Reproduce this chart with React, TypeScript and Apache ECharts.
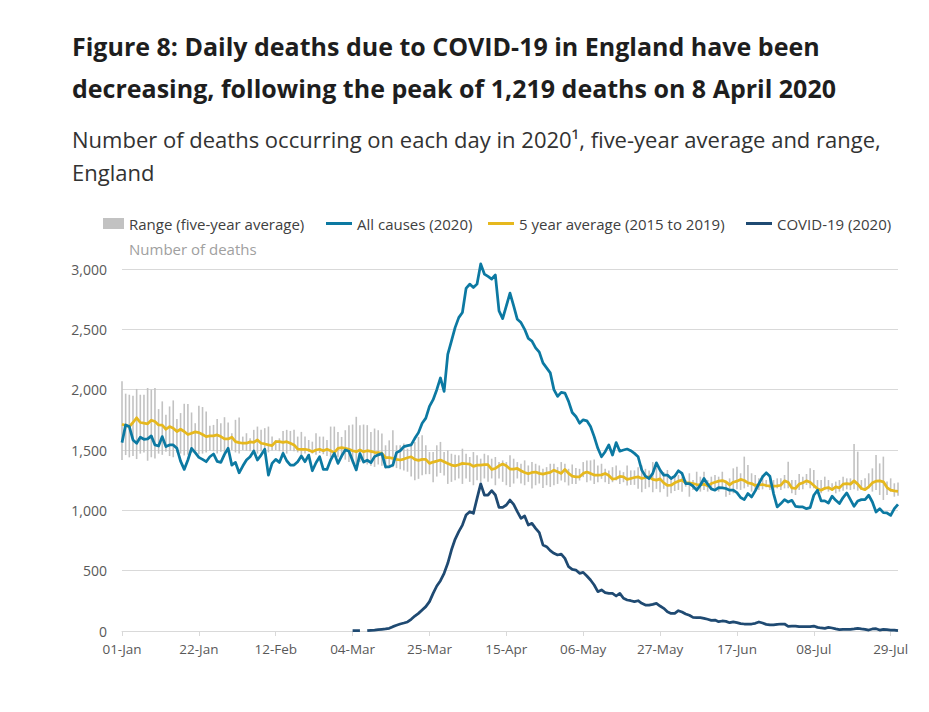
import React, { useEffect, useRef } from "react";
import * as echarts from "echarts";

const TITLE = "Figure 8: Daily deaths due to COVID-19 in England have been\ndecreasing, following the peak of 1,219 deaths on 8 April 2020";
const SUBTITLE = "Number of deaths occurring on each day in 2020\u00b9, five-year average and range,\nEngland";

const MONTHS = ["Jan", "Feb", "Mar", "Apr", "May", "Jun", "Jul"];
const MONTH_DAYS = [31, 29, 31, 30, 31, 30, 31];

const NAME_RANGE = "Range (five-year average)";
const NAME_ALL = "All causes (2020)";
const NAME_AVG = "5 year average (2015 to 2019)";
const NAME_COVID = "COVID-19 (2020)";

const Y_TICKS = [0, 500, 1000, 1500, 2000, 2500, 3000];

const allCauses = [
  1561, 1708, 1694, 1583, 1556, 1606, 1589, 1592, 1617, 1542,
  1533, 1611, 1528, 1542, 1542, 1514, 1408, 1339, 1417, 1514,
  1478, 1439, 1422, 1403, 1444, 1467, 1406, 1397, 1464, 1514,
  1375, 1397, 1311, 1367, 1417, 1444, 1492, 1417, 1458, 1506,
  1292, 1389, 1422, 1397, 1472, 1411, 1375, 1375, 1403, 1450,
  1403, 1458, 1328, 1394, 1444, 1339, 1339, 1417, 1472, 1389,
  1450, 1500, 1490, 1410, 1335, 1470, 1400, 1415, 1395, 1445,
  1460, 1470, 1361, 1361, 1375, 1478, 1494, 1528, 1536, 1542,
  1597, 1644, 1722, 1764, 1861, 1917, 2000, 2097, 1986, 2292,
  2403, 2514, 2597, 2639, 2839, 2875, 2847, 2875, 3042, 2958,
  2939, 2917, 2950, 2653, 2589, 2694, 2800, 2694, 2583, 2556,
  2500, 2425, 2403, 2347, 2311, 2222, 2181, 2139, 2000, 1944,
  1978, 1972, 1903, 1811, 1778, 1722, 1750, 1742, 1694, 1611,
  1514, 1444, 1486, 1542, 1458, 1561, 1490, 1500, 1508, 1494,
  1472, 1444, 1333, 1283, 1264, 1306, 1394, 1333, 1292, 1292,
  1264, 1283, 1328, 1306, 1222, 1222, 1200, 1167, 1208, 1264,
  1217, 1178, 1167, 1189, 1186, 1181, 1167, 1167, 1147, 1106,
  1089, 1139, 1111, 1161, 1222, 1278, 1311, 1283, 1139, 1028,
  1056, 1089, 1069, 1083, 1033, 1028, 1028, 1014, 1022, 1125,
  1167, 1078, 1078, 1061, 1117, 1083, 1056, 1106, 1144, 1089,
  1033, 1078, 1089, 1089, 1125, 1069, 986, 1014, 981, 978,
  958, 1014, 1050,
];

const fiveYearAvg = [
  1714, 1703, 1694, 1728, 1767, 1728, 1722, 1717, 1747, 1736,
  1708, 1706, 1672, 1694, 1681, 1653, 1672, 1653, 1628, 1639,
  1650, 1644, 1628, 1611, 1617, 1617, 1625, 1611, 1592, 1592,
  1606, 1569, 1561, 1556, 1556, 1567, 1564, 1583, 1556, 1550,
  1542, 1536, 1569, 1569, 1564, 1569, 1556, 1542, 1508, 1506,
  1506, 1500, 1486, 1500, 1506, 1494, 1506, 1494, 1478, 1514,
  1519, 1514, 1506, 1494, 1486, 1500, 1486, 1494, 1489, 1481,
  1478, 1472, 1436, 1436, 1431, 1422, 1417, 1425, 1436, 1444,
  1422, 1414, 1422, 1422, 1389, 1400, 1408, 1417, 1403, 1389,
  1375, 1369, 1378, 1389, 1386, 1383, 1364, 1375, 1375, 1378,
  1378, 1339, 1347, 1369, 1383, 1369, 1342, 1342, 1347, 1328,
  1314, 1303, 1314, 1317, 1306, 1300, 1308, 1314, 1333, 1319,
  1306, 1339, 1306, 1283, 1278, 1278, 1306, 1317, 1306, 1292,
  1292, 1294, 1306, 1289, 1258, 1264, 1281, 1278, 1256, 1264,
  1272, 1278, 1264, 1272, 1278, 1256, 1250, 1261, 1228, 1206,
  1208, 1228, 1242, 1250, 1228, 1228, 1222, 1214, 1211, 1217,
  1203, 1222, 1233, 1242, 1247, 1236, 1211, 1233, 1242, 1256,
  1247, 1228, 1222, 1206, 1211, 1214, 1206, 1200, 1200, 1203,
  1208, 1244, 1233, 1186, 1181, 1217, 1228, 1244, 1233, 1206,
  1178, 1167, 1183, 1189, 1172, 1194, 1186, 1217, 1222, 1217,
  1244, 1217, 1181, 1172, 1194, 1228, 1242, 1244, 1236, 1189,
  1167, 1161, 1158,
];

const covid = [
  null, null, null, null, null, null, null, null, null, null,
  null, null, null, null, null, null, null, null, null, null,
  null, null, null, null, null, null, null, null, null, null,
  null, null, null, null, null, null, null, null, null, null,
  null, null, null, null, null, null, null, null, null, null,
  null, null, null, null, null, null, null, null, null, null,
  null, null, null, 3, 3, 3, null, 3, 6, 8,
  11, 14, 17, 22, 36, 47, 58, 66, 75, 97,
  124, 146, 174, 202, 243, 312, 373, 417, 478, 561,
  671, 760, 823, 878, 961, 989, 975, 1099, 1219, 1127,
  1127, 1163, 1127, 1025, 1025, 1044, 1085, 1050, 989, 934,
  953, 878, 892, 851, 815, 713, 699, 666, 644, 630,
  638, 602, 533, 511, 505, 478, 486, 456, 423, 381,
  326, 340, 318, 312, 312, 290, 312, 271, 257, 251,
  243, 251, 229, 215, 215, 221, 229, 207, 188, 160,
  146, 146, 168, 157, 141, 130, 113, 110, 110, 105,
  97, 88, 91, 77, 83, 80, 69, 75, 69, 61,
  58, 58, 58, 64, 75, 66, 55, 50, 50, 55,
  58, 58, 39, 41, 41, 36, 36, 36, 36, 41,
  30, 25, 22, 30, 25, 17, 11, 14, 14, 14,
  17, 22, 17, 14, 8, 17, 19, 8, 14, 11,
  8, 8, 3,
];

const rangeHigh = [
  2069, 1967, 1958, 1950, 2006, 1958, 1958, 2014, 2000, 2014,
  1839, 1903, 1792, 1861, 1911, 1756, 1806, 1883, 1881, 1811,
  1722, 1867, 1856, 1819, 1700, 1708, 1756, 1722, 1772, 1728,
  1639, 1750, 1769, 1611, 1639, 1597, 1667, 1694, 1667, 1681,
  1694, 1611, 1583, 1597, 1658, 1667, 1658, 1667, 1611, 1650,
  1611, 1583, 1569, 1639, 1611, 1611, 1583, 1694, 1694, 1650,
  1608, 1664, 1706, 1711, 1775, 1706, 1711, 1706, 1650, 1678,
  1664, 1636, 1539, 1580, 1664, 1539, 1539, 1553, 1511, 1553,
  1567, 1608, 1622, 1540, 1483, 1483, 1539, 1567, 1483, 1497,
  1469, 1460, 1456, 1511, 1469, 1442, 1483, 1456, 1428, 1469,
  1456, 1428, 1442, 1400, 1414, 1400, 1456, 1428, 1400, 1386,
  1414, 1372, 1400, 1386, 1372, 1344, 1358, 1386, 1386, 1358,
  1400, 1386, 1344, 1380, 1350, 1344, 1400, 1414, 1414, 1422,
  1372, 1386, 1344, 1331, 1358, 1372, 1331, 1317, 1372, 1331,
  1331, 1358, 1372, 1344, 1331, 1400, 1358, 1344, 1317, 1334,
  1265, 1300, 1293, 1274, 1251, 1307, 1251, 1320, 1279, 1320,
  1251, 1279, 1293, 1279, 1320, 1238, 1265, 1348, 1362, 1307,
  1445, 1376, 1307, 1293, 1265, 1293, 1251, 1279, 1251, 1265,
  1265, 1293, 1403, 1251, 1251, 1301, 1279, 1301, 1348, 1334,
  1251, 1251, 1279, 1251, 1224, 1238, 1251, 1279, 1265, 1265,
  1550, 1486, 1251, 1265, 1307, 1348, 1459, 1389, 1445, 1238,
  1265, 1224, 1230,
];

const rangeLow = [
  1417, 1458, 1439, 1450, 1425, 1470, 1480, 1411, 1440, 1430,
  1470, 1460, 1485, 1450, 1440, 1480, 1470, 1455, 1460, 1475,
  1490, 1465, 1470, 1480, 1495, 1490, 1470, 1485, 1475, 1490,
  1500, 1480, 1470, 1500, 1495, 1490, 1485, 1470, 1490, 1500,
  1480, 1495, 1500, 1490, 1480, 1470, 1495, 1490, 1480, 1460,
  1470, 1485, 1470, 1460, 1475, 1465, 1450, 1440, 1455, 1440,
  1440, 1420, 1400, 1390, 1380, 1400, 1390, 1380, 1370, 1360,
  1380, 1370, 1344, 1370, 1358, 1350, 1340, 1330, 1320, 1280,
  1250, 1261, 1290, 1300, 1300, 1233, 1280, 1310, 1289, 1219,
  1236, 1250, 1264, 1219, 1264, 1236, 1208, 1250, 1236, 1264,
  1236, 1264, 1208, 1264, 1236, 1208, 1194, 1222, 1264, 1222,
  1208, 1236, 1180, 1208, 1222, 1186, 1208, 1194, 1208, 1219,
  1247, 1233, 1206, 1219, 1219, 1247, 1275, 1233, 1247, 1219,
  1233, 1261, 1233, 1219, 1233, 1247, 1219, 1233, 1206, 1211,
  1211, 1178, 1150, 1178, 1192, 1150, 1178, 1150, 1178, 1113,
  1141, 1160, 1169, 1155, 1196, 1113, 1169, 1174, 1155, 1169,
  1155, 1169, 1169, 1155, 1191, 1113, 1127, 1141, 1174, 1169,
  1182, 1196, 1155, 1174, 1169, 1174, 1191, 1169, 1141, 1182,
  1169, 1182, 1182, 1141, 1127, 1169, 1174, 1210, 1182, 1182,
  1174, 1141, 1169, 1155, 1174, 1141, 1155, 1163, 1174, 1169,
  1174, 1163, 1169, 1174, 1182, 1155, 1169, 1127, 1086, 1127,
  1155, 1113, 1120,
];

function buildDates(): string[] {
  const out: string[] = [];
  MONTHS.forEach((m, mi) => {
    for (let d = 1; d <= MONTH_DAYS[mi]; d++) {
      out.push((d < 10 ? "0" + d : String(d)) + "-" + m);
    }
  });
  return out;
}

const FONT = "'Open Sans', 'Noto Sans', sans-serif";
const C_ALL = "#0c79a2";
const C_AVG = "#e6b81e";
const C_COVID = "#1f4a72";
const C_RANGE = "#c2c2c2";

export default function App() {
  const ref = useRef<HTMLDivElement>(null);

  useEffect(() => {
    document.body.style.margin = "0";
    if (!ref.current) return;
    const chart = echarts.init(ref.current, undefined, { renderer: "svg" });
    const dates = buildDates();
    const rangeData = dates.map((_, i) => [i, rangeLow[i], rangeHigh[i]]);
    const legendText = { color: "#404040", fontSize: 15, fontFamily: FONT };

    chart.setOption({
      animation: false,
      textStyle: { fontFamily: FONT },
      title: [
        {
          text: TITLE,
          left: 72,
          top: 25,
          textStyle: { fontSize: 25, fontWeight: "bold", color: "#1e1e1e", lineHeight: 42, fontFamily: FONT },
          padding: 0,
        },
        {
          text: SUBTITLE,
          left: 72,
          top: 122,
          textStyle: { fontSize: 22, fontWeight: "normal", color: "#323232", lineHeight: 33, fontFamily: FONT },
          padding: 0,
        },
      ],
      legend: [
        { data: [{ name: NAME_RANGE, icon: "rect" }], left: 103, top: 216, itemWidth: 21, itemHeight: 11, padding: 0, itemGap: 0, textStyle: legendText, selectedMode: false },
        { data: [{ name: NAME_ALL, icon: "rect" }], left: 326, top: 216, itemWidth: 26, itemHeight: 3, padding: 0, itemGap: 0, textStyle: legendText, selectedMode: false },
        { data: [{ name: NAME_AVG, icon: "rect" }], left: 488, top: 216, itemWidth: 26, itemHeight: 3, padding: 0, itemGap: 0, textStyle: legendText, selectedMode: false },
        { data: [{ name: NAME_COVID, icon: "rect" }], left: 746, top: 216, itemWidth: 26, itemHeight: 3, padding: 0, itemGap: 0, textStyle: legendText, selectedMode: false },
      ],
      grid: { left: 122, right: 31, top: 269, bottom: 81, containLabel: false },
      xAxis: {
        type: "category",
        data: dates,
        boundaryGap: false,
        axisLine: { lineStyle: { color: "#d9d9d9", width: 1 } },
        axisTick: { show: true, interval: 20, length: 5, lineStyle: { color: "#d9d9d9" } },
        axisLabel: { interval: 20, color: "#595959", fontSize: 13.5, margin: 11, fontFamily: FONT },
        splitLine: { show: false },
      },
      yAxis: {
        type: "value",
        min: Y_TICKS[0],
        max: Y_TICKS[Y_TICKS.length - 1],
        interval: 500,
        name: "Number of deaths",
        nameLocation: "end",
        nameGap: 20,
        nameTextStyle: { color: "#a0a0a0", fontSize: 15, align: "left", verticalAlign: "middle", padding: [0, 0, 0, 7], fontFamily: FONT },
        axisLine: { show: false },
        axisTick: { show: false },
        axisLabel: {
          color: "#595959",
          fontSize: 14,
          margin: 15,
          fontFamily: FONT,
          formatter: (v: number) => v.toLocaleString("en-GB"),
        },
        splitLine: { lineStyle: { color: "#d9d9d9", width: 1 } },
      },
      series: [
        {
          name: NAME_RANGE,
          type: "custom",
          data: rangeData,
          encode: { x: 0, y: [1, 2] },
          itemStyle: { color: C_RANGE },
          z: 1,
          renderItem: (params: any, api: any) => {
            const idx = api.value(0);
            const lo = api.coord([idx, api.value(1)]);
            const hi = api.coord([idx, api.value(2)]);
            return {
              type: "rect",
              shape: { x: lo[0] - 0.8, y: hi[1], width: 1.6, height: lo[1] - hi[1] },
              style: { fill: C_RANGE },
            };
          },
        },
        {
          name: NAME_AVG,
          type: "line",
          data: fiveYearAvg,
          showSymbol: false,
          symbol: "none",
          lineStyle: { color: C_AVG, width: 2.75, join: "round" },
          itemStyle: { color: C_AVG },
          z: 2,
        },
        {
          name: NAME_ALL,
          type: "line",
          data: allCauses,
          showSymbol: false,
          symbol: "none",
          clip: false,
          lineStyle: { color: C_ALL, width: 2.75, join: "round" },
          itemStyle: { color: C_ALL },
          z: 3,
        },
        {
          name: NAME_COVID,
          type: "line",
          data: covid,
          showSymbol: false,
          symbol: "none",
          connectNulls: false,
          lineStyle: { color: C_COVID, width: 2.75, join: "round" },
          itemStyle: { color: C_COVID },
          z: 4,
        },
      ],
    });

    return () => chart.dispose();
  }, []);

  return <div ref={ref} style={{ width: 929, height: 712 }} />;
}
